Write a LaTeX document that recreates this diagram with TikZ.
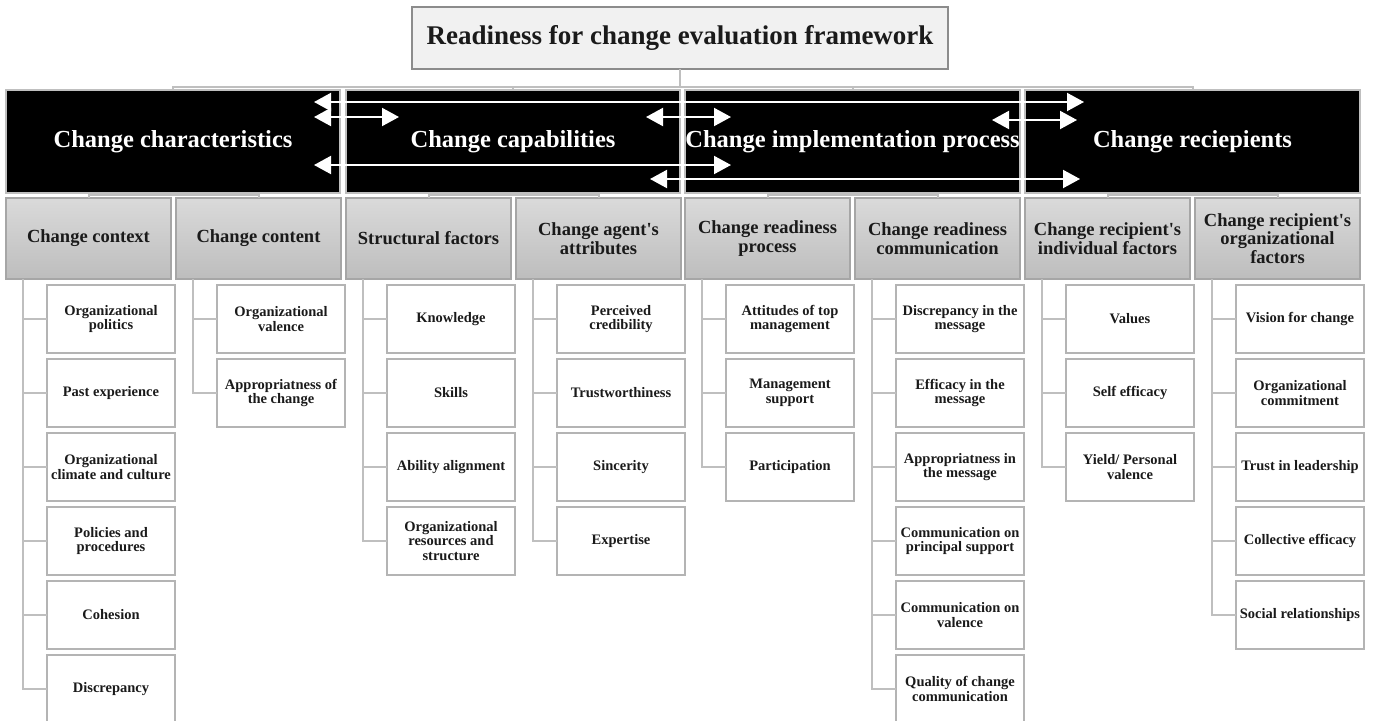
\documentclass[tikz,border=0pt]{standalone}
\usepackage{fontspec}
\setmainfont{Liberation Serif}
\usetikzlibrary{arrows.meta}

\definecolor{connline}{HTML}{BFBFBF}
\definecolor{leafline}{HTML}{B4B4B4}
\definecolor{catline}{HTML}{A6A6A6}
\definecolor{titleline}{HTML}{8C8C8C}
\definecolor{titlefill}{HTML}{F1F1F1}
\definecolor{gradtop}{HTML}{DADADA}
\definecolor{gradbot}{HTML}{BDBDBD}
\definecolor{inktext}{HTML}{1A1A1A}

% one column of leaf boxes under a category box
% #1 category node name, #2 left edge of the category box, #3 list of labels
\newcommand\leafcolumn[3]{%
  \foreach \lbl [count=\k] in {#3} {
    \node[leafbox, anchor=north west] (#1-\k) at (#2+41, 211+74*\k) {\lbl};
    \draw[conn] ([xshift=17pt]#1.south west) |- (#1-\k.west);
  }%
}

\begin{document}
\begin{tikzpicture}[x=1pt, y=-1pt,
  conn/.style={draw=connline, line width=2pt},
  titlebox/.style={draw=titleline, fill=titlefill, line width=1.5pt,
    minimum width=536pt, minimum height=62pt, inner sep=0pt, outer sep=0pt,
    text=inktext, font=\fontsize{27}{28}\selectfont\bfseries},
  dimbox/.style={draw=connline, fill=black, line width=1.5pt,
    minimum width=#1, minimum height=103pt, inner sep=0pt, outer sep=0pt,
    text=white, font=\fontsize{24.5}{26}\selectfont\bfseries},
  catbox/.style={draw=catline, line width=1.5pt, top color=gradtop, bottom color=gradbot,
    minimum width=165pt, minimum height=81pt, inner sep=0pt, outer sep=0pt,
    align=center, text=inktext, font=\fontsize{18.5}{18.5}\selectfont\bfseries},
  leafbox/.style={draw=leafline, fill=white, line width=1.5pt,
    minimum width=128pt, minimum height=68pt, inner sep=0pt, outer sep=0pt,
    align=center, text=inktext, font=\fontsize{14.5}{14.5}\selectfont\bfseries},
  rel/.style={draw=white, line width=2pt, {Triangle[length=17pt,width=18pt]}-{Triangle[length=17pt,width=18pt]}}
]
\useasboundingbox (0,0) rectangle (1375,720);
\fill[white] (0,0) rectangle (1375,720);

% root
\node[titlebox] (root) at (680,38) {Readiness for change evaluation framework};

% four dimensions
\node[dimbox=334pt] (dim1) at (173,141.5) {Change characteristics};
\node[dimbox=334pt] (dim2) at (513,141.5) {Change capabilities};
\node[dimbox=335pt] (dim3) at (852.5,141.5) {Change implementation process};
\node[dimbox=335pt] (dim4) at (1192.5,141.5) {Change reciepients};

% root to dimensions
\draw[conn] (root.south) -- ++(0,18);
\draw[conn] (dim1.north) -- ++(0,-3) -| (dim4.north);
\draw[conn] (dim2.north) -- ++(0,-3);
\draw[conn] (dim3.north) -- ++(0,-3);

% relations between the dimensions
\coordinate (r1a) at (314,102);  \coordinate (r1b) at (1084,102);
\coordinate (r2a) at (314,117);  \coordinate (r2b) at (399,117);
\coordinate (r3a) at (646,117);  \coordinate (r3b) at (731,117);
\coordinate (r4a) at (992,120);  \coordinate (r4b) at (1077,120);
\coordinate (r5a) at (314,165);  \coordinate (r5b) at (731,165);
\coordinate (r6a) at (650,179);  \coordinate (r6b) at (1080,179);
\draw[rel] (r1a) -- (r1b);
\draw[rel] (r2a) -- (r2b);
\draw[rel] (r3a) -- (r3b);
\draw[rel] (r4a) -- (r4b);
\draw[rel] (r5a) -- (r5b);
\draw[rel] (r6a) -- (r6b);

% categories
\node[catbox] (c1) at (88.5,238.5) {Change context};
\node[catbox] (c2) at (258.5,238.5) {Change content};
\node[catbox] (c3) at (428.5,238.5) {Structural factors};
\node[catbox] (c4) at (598.5,238.5) {Change agent\textquotesingle s\\attributes};
\node[catbox] (c5) at (767.5,238.5) {Change readiness\\process};
\node[catbox] (c6) at (937.5,238.5) {Change readiness\\communication};
\node[catbox] (c7) at (1107.5,238.5) {Change recipient\textquotesingle s\\individual factors};
\node[catbox] (c8) at (1277.5,238.5) {Change recipient\textquotesingle s\\organizational\\factors};

% dimensions to categories
\draw[conn] (dim1.south) -- ++(0,3);
\draw[conn] (c1.north) -- ++(0,-3) -| (c2.north);
\draw[conn] (dim2.south) -- ++(0,3);
\draw[conn] (c3.north) -- ++(0,-3) -| (c4.north);
\draw[conn] (dim3.south) -- ++(0,3);
\draw[conn] (c5.north) -- ++(0,-3) -| (c6.north);
\draw[conn] (dim4.south) -- ++(0,3);
\draw[conn] (c7.north) -- ++(0,-3) -| (c8.north);

% factors
\leafcolumn{c1}{6}{{Organizational\\politics},{Past experience},{Organizational\\climate and culture},{Policies and\\procedures},{Cohesion},{Discrepancy}}
\leafcolumn{c2}{176}{{Organizational\\valence},{Appropriatness of\\the change}}
\leafcolumn{c3}{346}{{Knowledge},{Skills},{Ability alignment},{Organizational\\resources and\\structure}}
\leafcolumn{c4}{516}{{Perceived\\credibility},{Trustworthiness},{Sincerity},{Expertise}}
\leafcolumn{c5}{685}{{Attitudes of top\\management},{Management\\support},{Participation}}
\leafcolumn{c6}{855}{{Discrepancy in the\\message},{Efficacy in the\\message},{Appropriatness in\\the message},{Communication on\\principal support},{Communication on\\valence},{Quality of change\\communication}}
\leafcolumn{c7}{1025}{{Values},{Self efficacy},{Yield/ Personal\\valence}}
\leafcolumn{c8}{1195}{{Vision for change},{Organizational\\commitment},{Trust in leadership},{Collective efficacy},{Social relationships}}
\end{tikzpicture}
\end{document}
